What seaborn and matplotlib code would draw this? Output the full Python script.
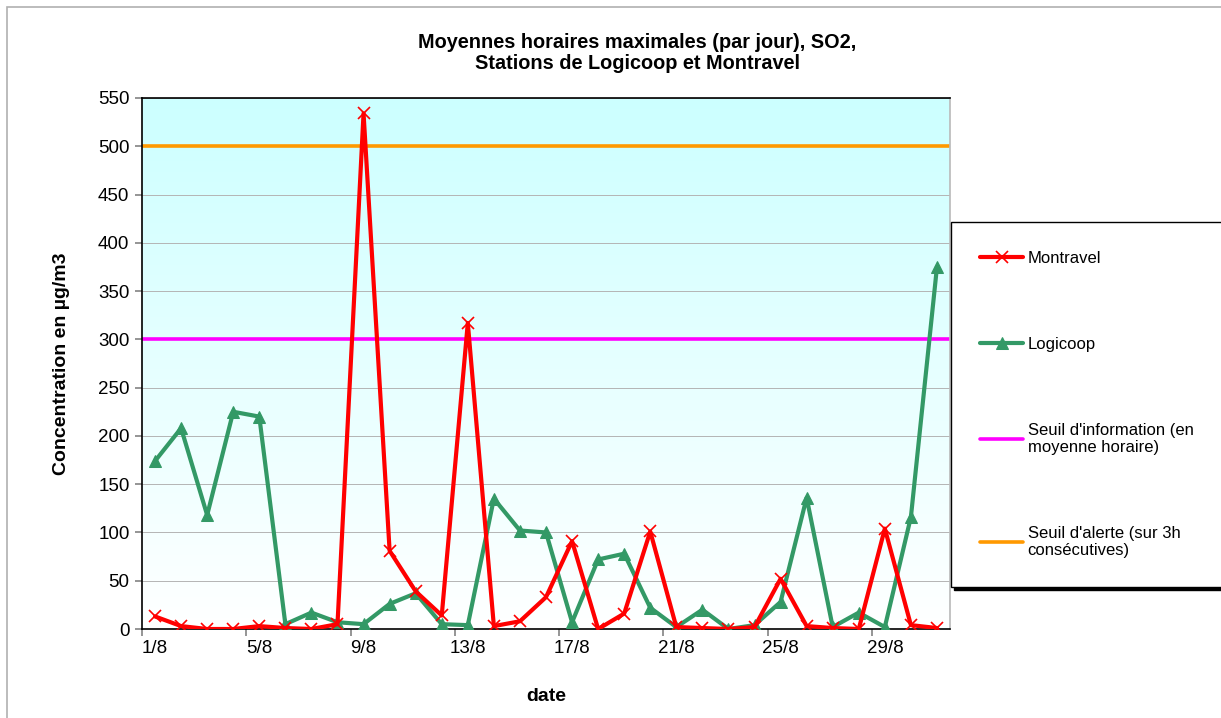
import matplotlib
matplotlib.use("Agg")
import matplotlib.pyplot as plt
import seaborn as sns
import numpy as np
import pandas as pd
from matplotlib.colors import LinearSegmentedColormap
from matplotlib.patches import Rectangle

# daily max of hourly means, SO2, August
days = list(range(1, 32))
montravel = [13, 3, 0, 0, 3, 1, 0, 5, 534, 81, 39, 14, 317, 3, 8, 33,
             91, 0, 16, 101, 2, 1, 0, 2, 52, 3, 1, 0, 104, 4, 1]
logicoop = [174, 208, 118, 225, 220, 5, 17, 7, 5, 26, 37, 5, 4, 135, 102, 100,
            7, 72, 78, 22, 2, 20, 0, 4, 28, 136, 2, 17, 2, 116, 375]
seuil_info = 300
seuil_alerte = 500

label_days = [1, 5, 9, 13, 17, 21, 25, 29]
label_text = [f"{d}/8" for d in label_days]
y_ticks = list(range(0, 551, 50))

sns.set_theme(style="white")
plt.rcParams["font.family"] = ["Liberation Sans", "DejaVu Sans"]
plt.rcParams["text.color"] = "black"
plt.rcParams["axes.labelcolor"] = "black"
plt.rcParams["xtick.color"] = "black"
plt.rcParams["ytick.color"] = "black"

df = pd.DataFrame({"day": days, "Montravel": montravel, "Logicoop": logicoop})

W, H = 1221, 718
fig = plt.figure(figsize=(W / 100, H / 100), dpi=100)
ax = fig.add_axes([142 / W, 1 - 629 / H, (950 - 142) / W, (629 - 98) / H])

# outer chart border
fig.patches.append(Rectangle((7 / W, -0.01), 1.02, 1 - 7 / H + 0.01, transform=fig.transFigure,
                             fill=False, edgecolor="#b0b0b0", linewidth=1.2))

# plot area gradient (cyan to white)
cmap = LinearSegmentedColormap.from_list("bg", ["#ffffff", "#ccffff"])
grad = np.linspace(0, 1, 256).reshape(-1, 1)
ax.imshow(grad, extent=[0, 1, 0, 1], transform=ax.transAxes, origin="lower",
          aspect="auto", cmap=cmap, zorder=0)

ax.axhline(seuil_info, color="#ff00ff", linewidth=2.6, zorder=2,
           label="Seuil d'information (en\nmoyenne horaire)")
ax.axhline(seuil_alerte, color="#ff9900", linewidth=2.6, zorder=2,
           label="Seuil d'alerte (sur 3h\nconsécutives)")

sns.lineplot(data=df, x="day", y="Montravel", ax=ax, color="#ff0000", linewidth=3,
             marker="x", markersize=9, markeredgewidth=1.2, markeredgecolor="#ff0000",
             label="Montravel", zorder=4)
sns.lineplot(data=df, x="day", y="Logicoop", ax=ax, color="#339966", linewidth=3,
             marker="^", markersize=8, markeredgecolor="#339966",
             label="Logicoop", zorder=3)

ax.set_xlim(0.5, 31.5)
ax.set_ylim(0, 550)
ax.set_yticks(y_ticks)
ax.set_yticklabels([str(v) for v in y_ticks], fontsize=13.5)
ax.yaxis.grid(True, color="#b4b4b4", linewidth=0.7)
for gl in ax.get_ygridlines():
    gl.set_zorder(1)

# category ticks between days, labels on days
ax.set_xticks(np.arange(0.5, 32, 4))
ax.set_xticklabels([])
ax.set_xticks(label_days, minor=True)
ax.set_xticklabels(label_text, minor=True, fontsize=13.5)
ax.tick_params(axis="x", which="major", length=5, color="#888888", direction="out", bottom=True)
ax.tick_params(axis="x", which="minor", length=0, pad=8)
ax.tick_params(axis="y", length=5, color="#888888", direction="out", left=True, pad=4)

for s in ["left", "bottom", "top"]:
    ax.spines[s].set_color("black")
    ax.spines[s].set_linewidth(1.2)
ax.spines["right"].set_color("#bbbbbb")

ax.set_xlabel("date", fontsize=14, fontweight="bold", labelpad=22)
ax.set_ylabel("Concentration en µg/m3", fontsize=14, fontweight="bold", labelpad=20)

fig.text(0.522, 1 - 53 / H,
         "Moyennes horaires maximales (par jour), SO2,\nStations de Logicoop et Montravel",
         ha="center", va="center", fontsize=14.3, fontweight="bold", linespacing=1.15)

handles, labels = ax.get_legend_handles_labels()
order = [labels.index(n) for n in ["Montravel", "Logicoop",
                                   "Seuil d'information (en\nmoyenne horaire)",
                                   "Seuil d'alerte (sur 3h\nconsécutives)"]]
leg = ax.legend([handles[i] for i in order], [labels[i] for i in order],
                loc="upper left", bbox_to_anchor=(951 / W, 1 - 229 / H, 300 / W, 0.01),
                bbox_transform=fig.transFigure, mode="expand", fontsize=12,
                frameon=True, fancybox=False, edgecolor="black", framealpha=1,
                borderaxespad=0, borderpad=1.75, labelspacing=4.25,
                handlelength=2.6, handletextpad=0.25,
                shadow={"color": "black", "alpha": 1})
leg.get_frame().set_linewidth(1.0)

fig.savefig("out.png", dpi=100)
